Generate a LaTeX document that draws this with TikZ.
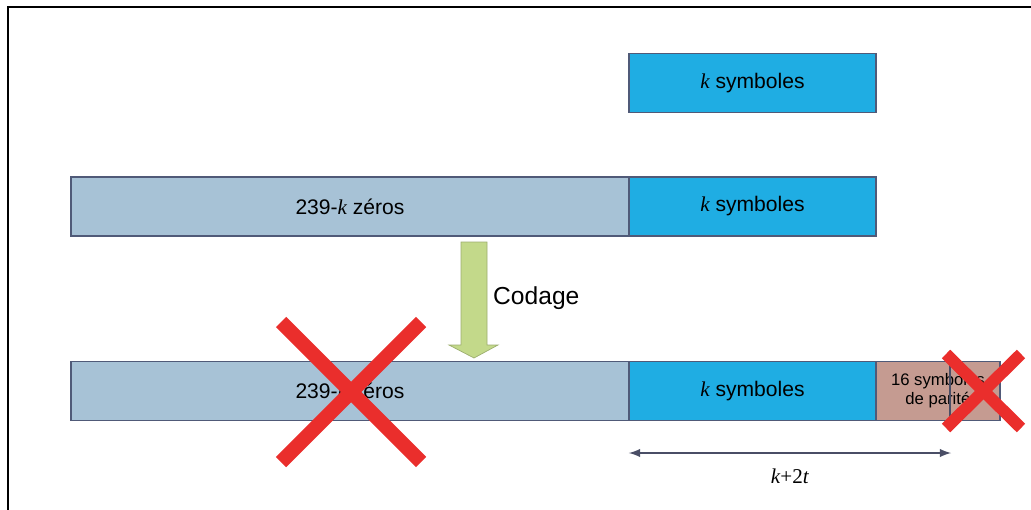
\documentclass[tikz,border=0pt]{standalone}
\usepackage{fontspec}
\setmainfont{Liberation Sans}
\newfontfamily\timesfont{Liberation Serif}
\usepackage{tikz}
\usetikzlibrary{calc, positioning, arrows}
\definecolor{cyanbox}{HTML}{1FADE3}
\definecolor{greybox}{HTML}{A7C2D6}
\definecolor{brownbox}{HTML}{C59B91}
\definecolor{boxline}{HTML}{505A78}
\definecolor{codegreen}{HTML}{C3D98A}
\definecolor{crossred}{HTML}{EA2E2C}
\definecolor{dimline}{HTML}{4A4E66}
\newcommand{\kk}{{\timesfont\itshape k}}
\tikzstyle{blk}=[inner sep=0pt, outer sep=0pt, draw=boxline, line width=0.8pt, shape=rectangle, minimum height=1.18cm, font=\fontsize{12}{14}\selectfont]
\tikzstyle{zer}=[blk, fill=greybox, minimum width=11.16cm]
\tikzstyle{ksym}=[blk, fill=cyanbox, minimum width=4.94cm]
\tikzstyle{par}=[blk, fill=brownbox, minimum width=2.48cm, align=center, font=\fontsize{9.5}{11}\selectfont]
\tikzstyle{xmark}=[crossred, line width=0.29cm]
\tikzset{>=stealth}

\begin{document}
\begin{tikzpicture}[x=0.02cm, y=-0.02cm]
\useasboundingbox (0,0) rectangle (1031,510);
\draw[line width=1.4pt] (1040,7) -- (8,7) -- (8,520);

\node[ksym] (K0) at (752.5,83) {\kk{} symboles};

\node[zer] (Z1) at (350,206.5) {239-\kk{} zéros};
\node[ksym, right = 0pt of Z1] (K1) {\kk{} symboles};

\node[zer] (Z2) at (350,391) {239-\kk{} zéros};
\node[ksym, right = 0pt of Z2] (K2) {\kk{} symboles};
\node[par, right = 0pt of K2] (P2) {16 symboles\\de parité};

% fleche de codage
\filldraw[fill=codegreen, draw=codegreen!80!black, line width=0.4pt]
  (461,242) -- (487,242) -- (487,345) -- (498,345) -- (474,358)
  -- (449,345) -- (461,345) -- cycle;
\node[anchor=west, font=\fontsize{14}{16}\selectfont] (cod) at (487,298) {Codage};

\draw[dimline, line width=0.9pt] (950,365) -- (950,419);

% croix
\draw[xmark] (281,322) -- (421,462);
\draw[xmark] (421,322) -- (281,462);
\draw[xmark, line width=0.24cm] (946,354) -- (1021,428);
\draw[xmark, line width=0.24cm] (1021,354) -- (946,428);

\coordinate (E) at (951,453);
\draw[<->, >=latex, dimline, line width=1.2pt] (K2.south west |- E) -- node[below=5pt, black, font=\timesfont\fontsize{12}{14}\selectfont] {\textit{k}+2\textit{t}} (E);
\end{tikzpicture}
\end{document}
